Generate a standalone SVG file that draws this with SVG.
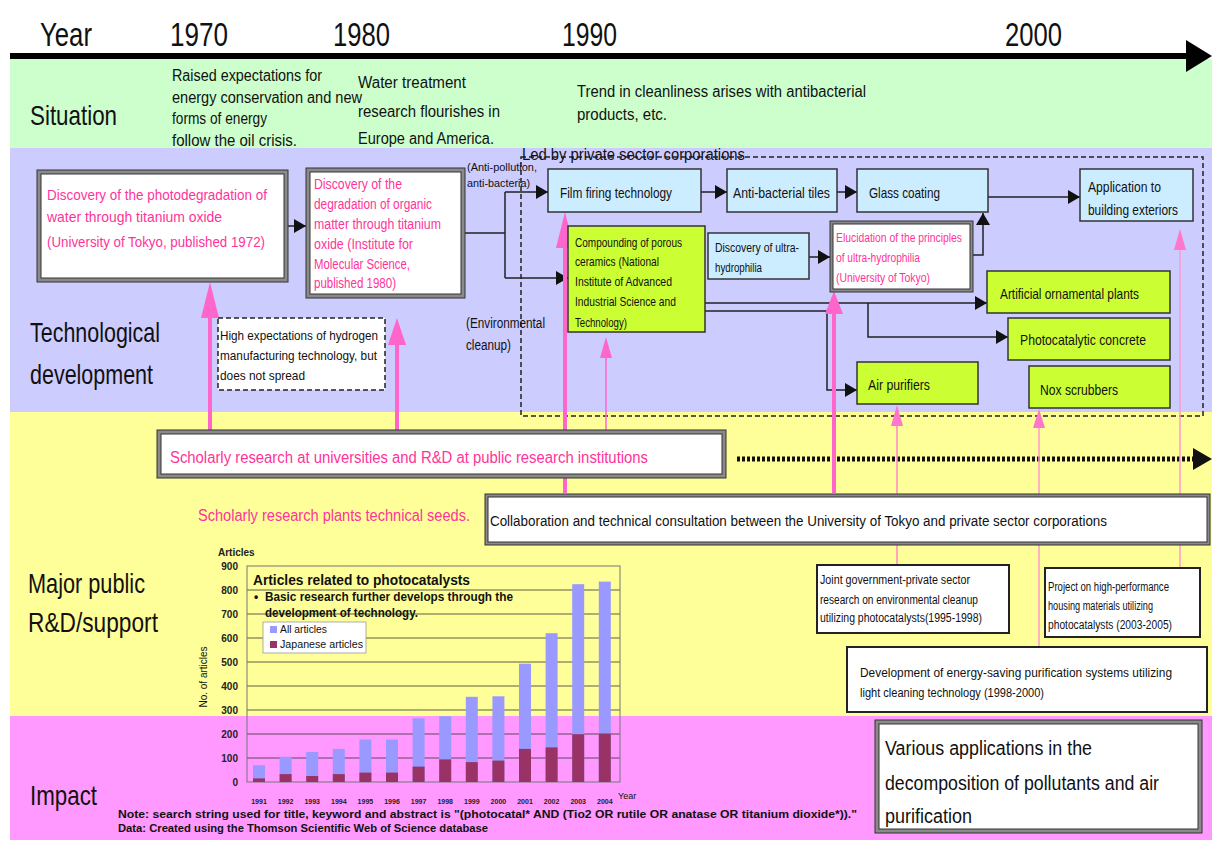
<svg xmlns="http://www.w3.org/2000/svg" width="1215" height="844" viewBox="0 0 1215 844">
<style>
text{font-family:"Liberation Sans",Arial,sans-serif;fill:#111}
.hd{font-size:34px}
.lbl{font-size:28px}
.sit{font-size:16px}
.pk{fill:#ff3399}
.box{stroke:#333;stroke-width:1.5}
.blue{fill:#ccecff}
.green{fill:#ccff33}
.outer{fill:#8a8a8a;stroke:#333;stroke-width:1}
.inner{fill:#fff;stroke:#333;stroke-width:1}
.con{fill:none;stroke:#222;stroke-width:1.5}
.pkl{stroke:#ff66cc;fill:none}
.pkh{fill:#ff66cc}
.ch{font-weight:bold;font-size:10px;fill:#222}
.yr{font-weight:bold;font-size:7px;fill:#222}
.grid{stroke:#333;stroke-width:0.8}
</style>
<defs>
<marker id="ah" markerUnits="userSpaceOnUse" markerWidth="12" markerHeight="14" viewBox="0 0 12 14" refX="12" refY="7" orient="auto"><path d="M0,0 L12,7 L0,14 z" fill="#111"/></marker>
</defs>
<rect width="1215" height="844" fill="#fff"/>
<g id="bands">
<rect x="10" y="59" width="1202" height="89" fill="#ccffcc"/>
<rect x="10" y="148" width="1202" height="264" fill="#ccccff"/>
<rect x="10" y="412" width="1202" height="304" fill="#ffff99"/>
<rect x="10" y="716" width="1202" height="124" fill="#ff99ff"/>
</g>
<g id="timeline">
<line x1="10" y1="56" x2="1192" y2="56" stroke="#000" stroke-width="6"/>
<polygon points="1186,40 1212,56 1186,72" fill="#000"/>
<text class="hd" x="40" y="46" textLength="52" lengthAdjust="spacingAndGlyphs">Year</text>
<text class="hd" x="170" y="46" textLength="58" lengthAdjust="spacingAndGlyphs">1970</text>
<text class="hd" x="333" y="46" textLength="57" lengthAdjust="spacingAndGlyphs">1980</text>
<text class="hd" x="562" y="46" textLength="55" lengthAdjust="spacingAndGlyphs">1990</text>
<text class="hd" x="1005" y="46" textLength="57" lengthAdjust="spacingAndGlyphs">2000</text>
</g>
<g id="row-labels">
<text class="lbl" x="30" y="125" textLength="87" lengthAdjust="spacingAndGlyphs">Situation</text>
<text class="lbl" x="30" y="342" textLength="130" lengthAdjust="spacingAndGlyphs">Technological</text>
<text class="lbl" x="30" y="384" textLength="123" lengthAdjust="spacingAndGlyphs">development</text>
<text class="lbl" x="28" y="593" textLength="117" lengthAdjust="spacingAndGlyphs">Major public</text>
<text class="lbl" x="28" y="632" textLength="130" lengthAdjust="spacingAndGlyphs">R&amp;D/support</text>
<text class="lbl" x="30" y="805" textLength="67" lengthAdjust="spacingAndGlyphs">Impact</text>
</g>
<g id="situation">
<text class="sit" x="172" y="81" textLength="150" lengthAdjust="spacingAndGlyphs">Raised expectations for</text>
<text class="sit" x="172" y="103" textLength="190" lengthAdjust="spacingAndGlyphs">energy conservation and new</text>
<text class="sit" x="172" y="124" textLength="95" lengthAdjust="spacingAndGlyphs">forms of energy</text>
<text class="sit" x="172" y="146" textLength="125" lengthAdjust="spacingAndGlyphs">follow the oil crisis.</text>
<text class="sit" x="358" y="88" textLength="108" lengthAdjust="spacingAndGlyphs">Water treatment</text>
<text class="sit" x="358" y="117" textLength="142" lengthAdjust="spacingAndGlyphs">research flourishes in</text>
<text class="sit" x="358" y="144" textLength="136" lengthAdjust="spacingAndGlyphs">Europe and America.</text>
<text class="sit" x="577" y="97" textLength="289" lengthAdjust="spacingAndGlyphs">Trend in cleanliness arises with antibacterial</text>
<text class="sit" x="577" y="120" textLength="90" lengthAdjust="spacingAndGlyphs">products, etc.</text>
</g>
<g id="private-sector-region">
<path d="M521,157 H1203 V416 H521 Z" fill="none" stroke="#222" stroke-width="1.5" stroke-dasharray="5,3"/>
<text x="522" y="160" font-size="16" textLength="223" lengthAdjust="spacingAndGlyphs">Led by private sector corporations</text>
</g>
<g id="connectors">
<line class="con" x1="288" y1="226" x2="306" y2="226" marker-end="url(#ah)"/>
<path class="con" d="M465,233 H505"/>
<path class="con" d="M505,192 V278"/>
<line class="con" x1="505" y1="192" x2="548" y2="192" marker-end="url(#ah)"/>
<line class="con" x1="505" y1="278" x2="568" y2="278" marker-end="url(#ah)"/>
<line class="con" x1="701" y1="192" x2="727" y2="192" marker-end="url(#ah)"/>
<line class="con" x1="837" y1="192" x2="857" y2="192" marker-end="url(#ah)"/>
<line class="con" x1="988" y1="197" x2="1080" y2="197" marker-end="url(#ah)"/>
<line class="con" x1="809" y1="257" x2="830" y2="257" marker-end="url(#ah)"/>
<path class="con" d="M973,255 H983 V213" marker-end="url(#ah)"/>
<line class="con" x1="705" y1="303" x2="987" y2="303" marker-end="url(#ah)"/>
<path class="con" d="M868,303 V337 H1008" marker-end="url(#ah)"/>
<path class="con" d="M705,311 H827 V390 H857" marker-end="url(#ah)"/>
<line x1="737" y1="459" x2="1195" y2="459" stroke="#111" stroke-width="5" stroke-dasharray="3,2"/>
<polygon points="1193,448 1212,459 1193,470" fill="#111"/>
<line class="pkl" x1="210" y1="430" x2="210" y2="316" stroke-width="4"/>
<polygon class="pkh" points="210,282 201,318 219,318"/>
<line class="pkl" x1="397" y1="430" x2="397" y2="343" stroke-width="4"/>
<polygon class="pkh" points="397,318 388,345 406,345"/>
<line class="pkl" x1="565" y1="493" x2="565" y2="246" stroke-width="4"/>
<polygon class="pkh" points="565,212 556,248 574,248"/>
<line class="pkl" x1="606" y1="430" x2="606" y2="356" stroke-width="1.5"/>
<polygon class="pkh" points="606,337 600,358 612,358"/>
<line class="pkl" x1="834" y1="493" x2="834" y2="312" stroke-width="4"/>
<polygon class="pkh" points="834,291 825,314 843,314"/>
<line x1="897" y1="565" x2="897" y2="424" stroke="#ff88cc" stroke-width="1.5"/>
<polygon points="897,405 891,426 903,426" fill="#ff77cc"/>
<line x1="1039" y1="647" x2="1039" y2="426" stroke="#ff99cc" stroke-width="1.5"/>
<polygon points="1039,409 1033,428 1045,428" fill="#ff77cc"/>
<line x1="1180" y1="568" x2="1180" y2="248" stroke="#ff99cc" stroke-width="1.5"/>
<polygon points="1180,229 1174,250 1186,250" fill="#ff77cc"/>
</g>
<g id="n-photodegradation">
<rect class="outer" x="37" y="170" width="251" height="112"/>
<rect class="inner" x="41" y="174" width="243" height="104"/>
<text class="pk" x="47" y="200" font-size="15" textLength="220" lengthAdjust="spacingAndGlyphs">Discovery of the photodegradation of</text>
<text class="pk" x="47" y="222" font-size="15" textLength="175" lengthAdjust="spacingAndGlyphs">water through titanium oxide</text>
<text class="pk" x="47" y="247" font-size="15" textLength="218" lengthAdjust="spacingAndGlyphs">(University of Tokyo, published 1972)</text>
</g>
<g id="n-organic">
<rect class="outer" x="306" y="168" width="159" height="130"/>
<rect class="inner" x="310" y="172" width="151" height="122"/>
<text class="pk" x="314" y="189" font-size="14" textLength="88" lengthAdjust="spacingAndGlyphs">Discovery of the</text>
<text class="pk" x="314" y="209" font-size="14" textLength="118" lengthAdjust="spacingAndGlyphs">degradation of organic</text>
<text class="pk" x="314" y="229" font-size="14" textLength="127" lengthAdjust="spacingAndGlyphs">matter through titanium</text>
<text class="pk" x="314" y="249" font-size="14" textLength="99" lengthAdjust="spacingAndGlyphs">oxide (Institute for</text>
<text class="pk" x="314" y="269" font-size="14" textLength="96" lengthAdjust="spacingAndGlyphs">Molecular Science,</text>
<text class="pk" x="314" y="288" font-size="14" textLength="82" lengthAdjust="spacingAndGlyphs">published 1980)</text>
</g>
<g id="n-hydrogen">
<rect x="218" y="318" width="167" height="72" fill="#fff" stroke="#222" stroke-width="1.5" stroke-dasharray="5,3"/>
<text x="220" y="340" font-size="13" textLength="158" lengthAdjust="spacingAndGlyphs">High expectations of hydrogen</text>
<text x="220" y="360" font-size="13" textLength="157" lengthAdjust="spacingAndGlyphs">manufacturing technology, but</text>
<text x="220" y="380" font-size="13" textLength="85" lengthAdjust="spacingAndGlyphs">does not spread</text>
</g>
<g id="n-notes">
<text x="467" y="171" font-size="11" textLength="70" lengthAdjust="spacingAndGlyphs">(Anti-pollution,</text>
<text x="467" y="187" font-size="11" textLength="63" lengthAdjust="spacingAndGlyphs">anti-bacteria)</text>
<text x="466" y="328" font-size="14" textLength="79" lengthAdjust="spacingAndGlyphs">(Environmental</text>
<text x="466" y="350" font-size="14" textLength="45" lengthAdjust="spacingAndGlyphs">cleanup)</text>
</g>
<g id="n-film">
<rect class="box blue" x="548" y="169" width="153" height="43"/>
<text x="560" y="198" font-size="15" textLength="112" lengthAdjust="spacingAndGlyphs">Film firing technology</text>
</g>
<g id="n-tiles">
<rect class="box blue" x="727" y="169" width="110" height="43"/>
<text x="733" y="198" font-size="15" textLength="97" lengthAdjust="spacingAndGlyphs">Anti-bacterial tiles</text>
</g>
<g id="n-glass">
<rect class="box blue" x="857" y="169" width="131" height="43"/>
<text x="869" y="198" font-size="15" textLength="71" lengthAdjust="spacingAndGlyphs">Glass coating</text>
</g>
<g id="n-exteriors">
<rect class="box blue" x="1080" y="169" width="113" height="52"/>
<text x="1088" y="192" font-size="15" textLength="73" lengthAdjust="spacingAndGlyphs">Application to</text>
<text x="1088" y="215" font-size="15" textLength="90" lengthAdjust="spacingAndGlyphs">building exteriors</text>
</g>
<g id="n-ceramics">
<rect class="box green" x="568" y="226" width="137" height="106"/>
<text x="575" y="247" font-size="13" textLength="107" lengthAdjust="spacingAndGlyphs">Compounding of porous</text>
<text x="575" y="266" font-size="13" textLength="84" lengthAdjust="spacingAndGlyphs">ceramics (National</text>
<text x="575" y="286" font-size="13" textLength="97" lengthAdjust="spacingAndGlyphs">Institute of Advanced</text>
<text x="575" y="306" font-size="13" textLength="101" lengthAdjust="spacingAndGlyphs">Industrial Science and</text>
<text x="575" y="327" font-size="13" textLength="52" lengthAdjust="spacingAndGlyphs">Technology)</text>
</g>
<g id="n-ultra">
<rect class="box blue" x="708" y="233" width="101" height="46"/>
<text x="715" y="252" font-size="12" textLength="84" lengthAdjust="spacingAndGlyphs">Discovery of ultra-</text>
<text x="715" y="272" font-size="12" textLength="47" lengthAdjust="spacingAndGlyphs">hydrophilia</text>
</g>
<g id="n-elucidation">
<rect class="outer" x="830" y="221" width="143" height="71"/>
<rect class="inner" x="833" y="224" width="137" height="65"/>
<text class="pk" x="836" y="242" font-size="12" textLength="126" lengthAdjust="spacingAndGlyphs">Elucidation of the principles</text>
<text class="pk" x="836" y="262" font-size="12" textLength="84" lengthAdjust="spacingAndGlyphs">of ultra-hydrophilia</text>
<text class="pk" x="836" y="282" font-size="12" textLength="94" lengthAdjust="spacingAndGlyphs">(University of Tokyo)</text>
</g>
<g id="n-plants">
<rect class="box green" x="987" y="271" width="183" height="42"/>
<text x="1000" y="299" font-size="15" textLength="139" lengthAdjust="spacingAndGlyphs">Artificial ornamental plants</text>
</g>
<g id="n-concrete">
<rect class="box green" x="1008" y="318" width="162" height="42"/>
<text x="1020" y="345" font-size="15" textLength="126" lengthAdjust="spacingAndGlyphs">Photocatalytic concrete</text>
</g>
<g id="n-air">
<rect class="box green" x="857" y="362" width="121" height="42"/>
<text x="868" y="390" font-size="15" textLength="62" lengthAdjust="spacingAndGlyphs">Air purifiers</text>
</g>
<g id="n-nox">
<rect class="box green" x="1029" y="366" width="141" height="42"/>
<text x="1040" y="395" font-size="15" textLength="78" lengthAdjust="spacingAndGlyphs">Nox scrubbers</text>
</g>
<g id="n-scholarly">
<rect class="outer" x="157" y="430" width="569" height="48"/>
<rect class="inner" x="161" y="434" width="561" height="40"/>
<text class="pk" x="170" y="463" font-size="16" textLength="478" lengthAdjust="spacingAndGlyphs">Scholarly research at universities and R&amp;D at public research institutions</text>
</g>
<g id="n-seeds">
<text class="pk" x="198" y="521" font-size="16" textLength="272" lengthAdjust="spacingAndGlyphs">Scholarly research plants technical seeds.</text>
</g>
<g id="n-collab">
<rect class="outer" x="485" y="494" width="725" height="51"/>
<rect class="inner" x="488" y="497" width="719" height="45"/>
<text x="490" y="526" font-size="14" textLength="617" lengthAdjust="spacingAndGlyphs">Collaboration and technical consultation between the University of Tokyo and private sector corporations</text>
</g>
<g id="n-joint">
<rect x="817" y="565" width="192" height="68" fill="#fff" stroke="#222" stroke-width="2"/>
<text x="820" y="584" font-size="12" textLength="150" lengthAdjust="spacingAndGlyphs">Joint government-private sector</text>
<text x="820" y="604" font-size="12" textLength="158" lengthAdjust="spacingAndGlyphs">research on environmental cleanup</text>
<text x="820" y="622" font-size="12" textLength="162" lengthAdjust="spacingAndGlyphs">utilizing photocatalysts(1995-1998)</text>
</g>
<g id="n-project">
<rect x="1045" y="568" width="155" height="69" fill="#fff" stroke="#222" stroke-width="2"/>
<text x="1048" y="591" font-size="12" textLength="121" lengthAdjust="spacingAndGlyphs">Project on high-performance</text>
<text x="1048" y="610" font-size="12" textLength="105" lengthAdjust="spacingAndGlyphs">housing materials utilizing</text>
<text x="1048" y="629" font-size="12" textLength="124" lengthAdjust="spacingAndGlyphs">photocatalysts (2003-2005)</text>
</g>
<g id="n-development">
<rect x="847" y="647" width="360" height="65" fill="#fff" stroke="#222" stroke-width="2"/>
<text x="860" y="677" font-size="12.5" textLength="312" lengthAdjust="spacingAndGlyphs">Development of energy-saving purification systems utilizing</text>
<text x="860" y="697" font-size="12.5" textLength="184" lengthAdjust="spacingAndGlyphs">light cleaning technology (1998-2000)</text>
</g>
<g id="n-various">
<rect class="outer" x="875" y="720" width="327" height="113"/>
<rect class="inner" x="879" y="724" width="319" height="105"/>
<text x="885" y="755" font-size="20" textLength="207" lengthAdjust="spacingAndGlyphs">Various applications in the</text>
<text x="885" y="790" font-size="20" textLength="274" lengthAdjust="spacingAndGlyphs">decomposition of pollutants and air</text>
<text x="885" y="823" font-size="20" textLength="87" lengthAdjust="spacingAndGlyphs">purification</text>
</g>
<g id="chart">
<text class="ch" x="218" y="556">Articles</text>
<g>
<line class="grid" x1="247" y1="758" x2="620" y2="758"/>
<line class="grid" x1="247" y1="734" x2="620" y2="734"/>
<line class="grid" x1="247" y1="710" x2="620" y2="710"/>
<line class="grid" x1="247" y1="686" x2="620" y2="686"/>
<line class="grid" x1="247" y1="662" x2="620" y2="662"/>
<line class="grid" x1="247" y1="638" x2="620" y2="638"/>
<line class="grid" x1="247" y1="614" x2="620" y2="614"/>
<line class="grid" x1="247" y1="590" x2="620" y2="590"/>
<rect x="247" y="566" width="373" height="216" fill="none" stroke="#777" stroke-width="1"/>
</g>
<g text-anchor="end">
<text class="ch" x="238" y="570">900</text>
<text class="ch" x="238" y="594">800</text>
<text class="ch" x="238" y="618">700</text>
<text class="ch" x="238" y="642">600</text>
<text class="ch" x="238" y="666">500</text>
<text class="ch" x="238" y="690">400</text>
<text class="ch" x="238" y="714">300</text>
<text class="ch" x="238" y="738">200</text>
<text class="ch" x="238" y="762">100</text>
<text class="ch" x="238" y="786">0</text>
</g>
<text transform="translate(207,677) rotate(-90)" text-anchor="middle" font-size="10" fill="#222">No. of articles</text>
<g fill="#9999ff">
<rect x="253" y="765.2" width="12" height="16.8"/>
<rect x="279.6" y="756.8" width="12" height="25.2"/>
<rect x="306.2" y="752" width="12" height="30"/>
<rect x="332.8" y="748.9" width="12" height="33.1"/>
<rect x="359.4" y="739.5" width="12" height="42.5"/>
<rect x="386" y="739.5" width="12" height="42.5"/>
<rect x="412.6" y="718.4" width="12" height="63.6"/>
<rect x="439.2" y="716.2" width="12" height="65.8"/>
<rect x="465.8" y="696.8" width="12" height="85.2"/>
<rect x="492.4" y="696.3" width="12" height="85.7"/>
<rect x="519" y="663.7" width="12" height="118.3"/>
<rect x="545.6" y="633.2" width="12" height="148.8"/>
<rect x="572.2" y="584.2" width="12" height="197.8"/>
<rect x="598.8" y="581.6" width="12" height="200.4"/>
</g>
<g fill="#993366">
<rect x="253" y="778.4" width="12" height="3.6"/>
<rect x="279.6" y="774.1" width="12" height="7.9"/>
<rect x="306.2" y="776" width="12" height="6"/>
<rect x="332.8" y="774.1" width="12" height="7.9"/>
<rect x="359.4" y="772.6" width="12" height="9.4"/>
<rect x="386" y="772.6" width="12" height="9.4"/>
<rect x="412.6" y="766.6" width="12" height="15.4"/>
<rect x="439.2" y="759.4" width="12" height="22.6"/>
<rect x="465.8" y="762.1" width="12" height="19.9"/>
<rect x="492.4" y="760.6" width="12" height="21.4"/>
<rect x="519" y="748.9" width="12" height="33.1"/>
<rect x="545.6" y="747.4" width="12" height="34.6"/>
<rect x="572.2" y="734.2" width="12" height="47.8"/>
<rect x="598.8" y="733.5" width="12" height="48.5"/>
</g>
<g text-anchor="middle">
<text class="yr" x="259" y="804">1991</text>
<text class="yr" x="285.6" y="804">1992</text>
<text class="yr" x="312.2" y="804">1993</text>
<text class="yr" x="338.8" y="804">1994</text>
<text class="yr" x="365.4" y="804">1995</text>
<text class="yr" x="392" y="804">1996</text>
<text class="yr" x="418.6" y="804">1997</text>
<text class="yr" x="445.2" y="804">1998</text>
<text class="yr" x="471.8" y="804">1999</text>
<text class="yr" x="498.4" y="804">2000</text>
<text class="yr" x="525" y="804">2001</text>
<text class="yr" x="551.6" y="804">2002</text>
<text class="yr" x="578.2" y="804">2003</text>
<text class="yr" x="604.8" y="804">2004</text>
</g>
<text x="618" y="799" font-size="9" fill="#222">Year</text>
<text x="253" y="585" font-size="14" font-weight="bold" textLength="217" lengthAdjust="spacingAndGlyphs">Articles related to photocatalysts</text>
<text x="254" y="601" font-size="12" font-weight="bold">•</text>
<text x="265" y="601" font-size="12" font-weight="bold" textLength="248" lengthAdjust="spacingAndGlyphs">Basic research further develops through the</text>
<text x="265" y="617" font-size="12" font-weight="bold" textLength="153" lengthAdjust="spacingAndGlyphs">development of technology.</text>
<rect x="263" y="622" width="103" height="31" fill="#fff" stroke="#999" stroke-width="0.8"/>
<rect x="270" y="626" width="7" height="7" fill="#9999ff"/>
<text x="280" y="633" font-size="10" textLength="47" lengthAdjust="spacingAndGlyphs">All articles</text>
<rect x="270" y="641" width="7" height="7" fill="#993366"/>
<text x="280" y="648" font-size="10" textLength="83" lengthAdjust="spacingAndGlyphs">Japanese articles</text>
</g>
<g id="source-note">
<text x="118" y="818" font-size="11.5" font-weight="bold" fill="#221133" textLength="739" lengthAdjust="spacingAndGlyphs">Note: search string used for title, keyword and abstract is "(photocatal* AND (Tio2 OR rutile OR anatase OR titanium dioxide*))."</text>
<text x="118" y="832" font-size="11.5" font-weight="bold" fill="#221133" textLength="370" lengthAdjust="spacingAndGlyphs">Data: Created using the Thomson Scientific Web of Science database</text>
</g>
</svg>
